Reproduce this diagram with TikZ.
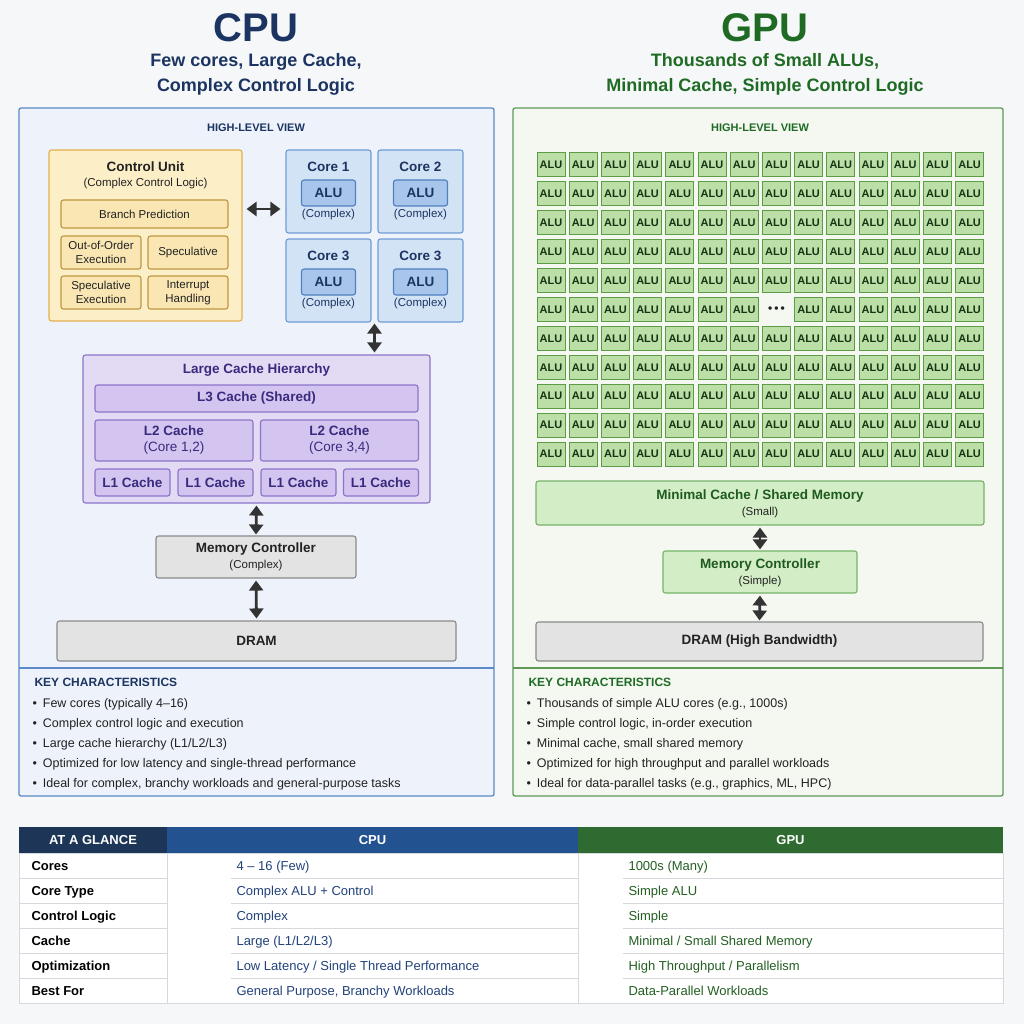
\documentclass[tikz,border=0pt]{standalone}
\usepackage{fontspec}
\setmainfont{Liberation Sans}
\usetikzlibrary{arrows.meta,calc,positioning}

\definecolor{pagebg}{HTML}{F6F7F9}
\definecolor{navy}{HTML}{1B3461}
\definecolor{gdark}{HTML}{1F6B24}
\definecolor{ink}{HTML}{222222}
\definecolor{cpubg}{HTML}{EEF3FB}
\definecolor{cpuline}{HTML}{5B8AC6}
\definecolor{gpubg}{HTML}{F4F8F1}
\definecolor{gpuline}{HTML}{5E9A56}
\definecolor{cubg}{HTML}{FCEFC8}
\definecolor{culine}{HTML}{E2B04A}
\definecolor{cuitembg}{HTML}{F9E6B3}
\definecolor{corebg}{HTML}{D3E3F6}
\definecolor{coreline}{HTML}{6E9CD2}
\definecolor{alubg}{HTML}{A8C6EC}
\definecolor{aluline}{HTML}{4F7FBE}
\definecolor{cachebg}{HTML}{E3DAF4}
\definecolor{cacheline}{HTML}{8C74CB}
\definecolor{cacheitembg}{HTML}{D3C5EF}
\definecolor{cachetext}{HTML}{3A2A7E}
\definecolor{graybg}{HTML}{E3E3E3}
\definecolor{grayline}{HTML}{8A8A8A}
\definecolor{galubg}{HTML}{BCDFA8}
\definecolor{galuline}{HTML}{5C9C45}
\definecolor{gcachebg}{HTML}{D3EDC6}
\definecolor{gcacheline}{HTML}{78B26A}
\definecolor{gtext}{HTML}{1F5A1F}
\definecolor{arrowc}{HTML}{333333}
\definecolor{hdrnavy}{HTML}{1D3557}
\definecolor{hdrblue}{HTML}{22528F}
\definecolor{hdrgreen}{HTML}{2F6B31}
\definecolor{gridc}{HTML}{D5D8DC}
\definecolor{cpuval}{HTML}{22427A}
\definecolor{gpuval}{HTML}{235F23}

\newcommand{\ftitle}{\fontsize{40}{44}\selectfont\bfseries}
\newcommand{\fsubt}{\fontsize{18}{25}\selectfont\bfseries}
\newcommand{\fhead}{\fontsize{13.5}{16}\selectfont\bfseries}
\newcommand{\fbody}{\fontsize{12.5}{15}\selectfont}
\newcommand{\fsmall}{\fontsize{11.5}{13.5}\selectfont}
\newcommand{\fkey}{\fontsize{12}{14}\selectfont\bfseries}

\tikzset{
  box/.style={draw, rounded corners=2.5pt, line width=1.1pt, inner sep=0pt},
  cubox/.style={box, fill=cubg, draw=culine},
  cuitem/.style={box, fill=cuitembg, draw=culine!85!black, font=\fsmall, text=ink, align=center},
  corebox/.style={box, fill=corebg, draw=coreline, minimum width=85, minimum height=83},
  alubox/.style={box, fill=alubg, draw=aluline, minimum width=54, minimum height=26, font=\fhead, text=navy},
  cachebox/.style={box, fill=cachebg, draw=cacheline},
  cacheitem/.style={box, fill=cacheitembg, draw=cacheline, font=\fhead, text=cachetext, align=center},
  graybox/.style={box, fill=graybg, draw=grayline, font=\fhead, text=ink},
  galu/.style={draw=galuline, fill=galubg, line width=1pt, inner sep=0pt, minimum width=28, minimum height=24,
    font=\fontsize{11}{13}\selectfont\bfseries, text=gtext!60!black},
  gbox/.style={box, fill=gcachebg, draw=gcacheline},
  dblarrow/.style={{Triangle[length=10pt,width=14pt]}-{Triangle[length=10pt,width=14pt]}, line width=2.8pt, draw=arrowc},
  line/.style={text height=9pt, text depth=2.5pt},
  bullet/.style={line, anchor=west, font=\fbody, text=ink},
  hdrcell/.style={inner sep=0pt, minimum height=26, font=\fontsize{13}{15}\selectfont\bfseries, text=white},
  gridline/.style={draw=gridc, line width=1pt},
  rowlbl/.style={line, anchor=west, font=\fontsize{13}{15}\selectfont\bfseries, text=black},
  rowval/.style={line, anchor=west, font=\fontsize{13}{15}\selectfont},
}

\begin{document}
\begin{tikzpicture}[x=1pt,y=-1pt]
\useasboundingbox[fill=pagebg] (0,0) rectangle (1024,1024);

% titles
\node[text=navy, font=\ftitle] (cputitle) at (256,28) {CPU};
\node[text=navy, font=\fsubt, align=center] (cpusub) at (256,74) {Few cores, Large Cache,\\Complex Control Logic};
\node[text=gdark, font=\ftitle] (gputitle) at (765,28) {GPU};
\node[text=gdark, font=\fsubt, align=center] (gpusub) at (765,74) {Thousands of Small ALUs,\\Minimal Cache, Simple Control Logic};

% CPU panel
\draw[cpuline, fill=cpubg, line width=1.3pt, rounded corners=2pt] (19,108) rectangle (494,796);
\draw[cpuline, line width=1.3pt] (19,668) -- (494,668);
\node[text=navy, font=\fontsize{11}{13}\selectfont\bfseries] (cpuview) at (256,128) {HIGH-LEVEL VIEW};

% control unit
\node[cubox, minimum width=193, minimum height=171] (cu) at (145.5,235.5) {};
\node[font=\fhead, text=ink] (cutitle) at (145.5,167) {Control Unit};
\node[font=\fsmall, text=ink] (cusub) at (145.5,184) {(Complex Control Logic)};
\node[cuitem, minimum width=167, minimum height=28] (bp) at (144.5,214) {Branch Prediction};
\node[cuitem, minimum width=80, minimum height=33] (ooo) at (101,252.5) {Out-of-Order\\Execution};
\node[cuitem, minimum width=80, minimum height=33] (spec) at (188,252.5) {Speculative};
\node[cuitem, minimum width=80, minimum height=33] (specx) at (101,292.5) {Speculative\\Execution};
\node[cuitem, minimum width=80, minimum height=33] (irq) at (188,292.5) {Interrupt\\Handling};

% cores
\foreach \nm/\cx/\cy/\lbl in {coreA/328.5/150/Core 1, coreB/420.5/150/Core 2,
                             coreC/328.5/239/Core 3, coreD/420.5/239/Core 3}{
  \node[corebox] (\nm) at (\cx,\cy+41.5) {};
  \node[font=\fhead, text=navy] (\nm-lbl) at (\cx,\cy+17) {\lbl};
  \node[alubox] (\nm-alu) at (\cx,\cy+43) {ALU};
  \node[font=\fsmall, text=navy] (\nm-sub) at (\cx,\cy+65) {(Complex)};
}
\draw[dblarrow, shorten <=4pt, shorten >=5pt] (cu.east |- 0,209) -- (coreA.west |- 0,209);

% cache hierarchy
\node[cachebox, minimum width=347, minimum height=148] (lch) at (256.5,429) {};
\node[font=\fhead, text=cachetext] (lchtitle) at (256.5,370) {Large Cache Hierarchy};
\node[cacheitem, minimum width=323, minimum height=27] (lthree) at (256.5,398.5) {L3 Cache (Shared)};
\node[cacheitem, minimum width=158, minimum height=41] (ltwoa) at (174,440.5) {L2 Cache\\{\fontseries{m}\selectfont(Core 1,2)}};
\node[cacheitem, minimum width=158, minimum height=41] (ltwob) at (339.5,440.5) {L2 Cache\\{\fontseries{m}\selectfont(Core 3,4)}};
\foreach \cx [count=\i] in {132.5,215.5,298.5,381}
  \node[cacheitem, minimum width=75, minimum height=27] (lone\i) at (\cx,482.5) {L1 Cache};

\coordinate (cgap) at ($(coreC.south east)!0.5!(coreD.south west)$);
\draw[dblarrow, shorten <=1pt, shorten >=2pt] (cgap) -- (cgap |- lch.north);

% memory path
\node[graybox, minimum width=200, minimum height=42] (mcc) at (256,557) {};
\node[font=\fhead, text=ink] (mcctitle) at (256,549) {Memory Controller};
\node[font=\fsmall, text=ink] (mccsub) at (256,566) {(Complex)};
\node[graybox, minimum width=399, minimum height=40] (dramc) at (256.5,641) {DRAM};
\draw[dblarrow, shorten <=2pt, shorten >=1pt] (lch.south) -- (mcc.north);
\draw[dblarrow, shorten <=2pt, shorten >=2pt] (mcc.south) -- (dramc.north);

% CPU key characteristics
\node[line, anchor=west, font=\fkey, text=navy] (cpukey) at (31,683) {KEY CHARACTERISTICS};
\foreach \t [count=\i] in {Few cores (typically 4–16), Complex control logic and execution,
    Large cache hierarchy (L1/L2/L3), Optimized for low latency and single-thread performance,
    {Ideal for complex, branchy workloads and general-purpose tasks}}
  \node[bullet] (cpuk\i) at (29,684+20*\i) {\textbullet\hspace{6pt}\t};

% GPU panel
\draw[gpuline, fill=gpubg, line width=1.3pt, rounded corners=2pt] (513,108) rectangle (1003,796);
\draw[gpuline, line width=1.3pt] (513,668) -- (1003,668);
\node[text=gdark, font=\fontsize{11}{13}\selectfont\bfseries] (gpuview) at (760,128) {HIGH-LEVEL VIEW};

% ALU grid
\foreach \r in {0,...,10}{
  \foreach \c in {0,...,13}{
    \ifnum\numexpr\r*100+\c\relax=507
      \node[font=\fontsize{12}{14}\selectfont\bfseries, text=ink] (alu-\r-\c) at (551+32.2*\c,165+28.9*\r) {\textbullet\,\textbullet\,\textbullet};
    \else
      \node[galu] (alu-\r-\c) at (551+32.2*\c,165+28.9*\r) {ALU};
    \fi
  }
}

\node[gbox, minimum width=448, minimum height=44] (gcache) at (760,503) {};
\node[font=\fhead, text=gtext] (gcachetitle) at (760,496) {Minimal Cache / Shared Memory};
\node[font=\fsmall, text=ink] (gcachesub) at (760,513) {(Small)};
\node[gbox, minimum width=194, minimum height=42] (gmc) at (760,572) {};
\node[font=\fhead, text=gtext] (gmctitle) at (760,565) {Memory Controller};
\node[font=\fsmall, text=ink] (gmcsub) at (760,582) {(Simple)};
\node[graybox, minimum width=447, minimum height=39] (gdram) at (759.5,641.5) {DRAM (High Bandwidth)};
\draw[dblarrow, shorten <=2pt, shorten >=1pt] (gcache.south) -- (gmc.north);
\draw[dblarrow, shorten <=2pt, shorten >=1pt] (gmc.south) -- (gdram.north);

% GPU key characteristics
\node[line, anchor=west, font=\fkey, text=gdark] (gpukey) at (525,683) {KEY CHARACTERISTICS};
\foreach \t [count=\i] in {{Thousands of simple ALU cores (e.g., 1000s)}, {Simple control logic, in-order execution},
    {Minimal cache, small shared memory}, Optimized for high throughput and parallel workloads,
    {Ideal for data-parallel tasks (e.g., graphics, ML, HPC)}}
  \node[bullet] (gpuk\i) at (523,684+20*\i) {\textbullet\hspace{6pt}\t};

% comparison table
\fill[white] (19,853) rectangle (1003,1003);
\node[hdrcell, fill=hdrnavy, minimum width=148] (hglance) at (93,840) {AT A GLANCE};
\node[hdrcell, fill=hdrblue, minimum width=411] (hcpu) at (372.5,840) {CPU};
\node[hdrcell, fill=hdrgreen, minimum width=425] (hgpu) at (790.5,840) {GPU};
\foreach \yy in {878,903,928,953,978}{
  \draw[gridline] (19,\yy) -- (167,\yy);
  \draw[gridline] (231,\yy) -- (578,\yy);
  \draw[gridline] (623,\yy) -- (1003,\yy);
}
\draw[gridline] (167,853) -- (167,1003);
\draw[gridline] (578,853) -- (578,1003);
\draw[gridline] (19,853) rectangle (1003,1003);
\foreach \lbl/\cv/\gv [count=\i from 0] in {
    Cores/{4 – 16 (Few)}/{1000s (Many)},
    Core Type/{Complex ALU + Control}/{Simple ALU},
    Control Logic/Complex/Simple,
    Cache/{Large (L1/L2/L3)}/{Minimal / Small Shared Memory},
    Optimization/{Low Latency / Single Thread Performance}/{High Throughput / Parallelism},
    Best For/{General Purpose, Branchy Workloads}/{Data-Parallel Workloads}}{
  \node[rowlbl] (row\i) at (28,867+25*\i) {\lbl};
  \node[rowval, text=cpuval] (cpuv\i) at (233,867+25*\i) {\cv};
  \node[rowval, text=gpuval] (gpuv\i) at (625,867+25*\i) {\gv};
}

\end{tikzpicture}
\end{document}
